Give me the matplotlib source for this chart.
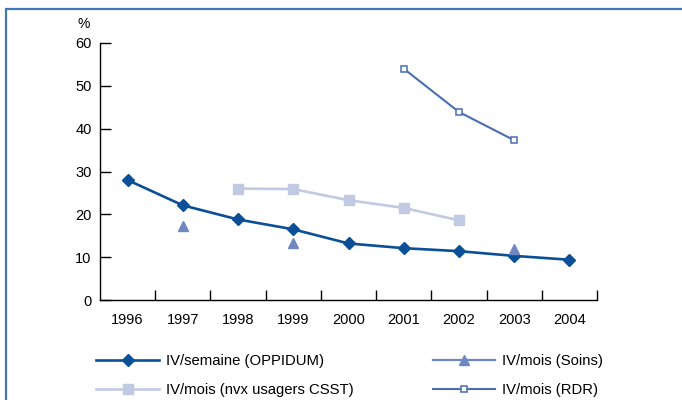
import matplotlib
matplotlib.use('Agg')
import matplotlib.pyplot as plt
from matplotlib.patches import Rectangle
from matplotlib.ticker import FixedLocator

plt.rcParams['font.family'] = ['Liberation Sans', 'DejaVu Sans']

years = ['1996', '1997', '1998', '1999', '2000', '2001', '2002', '2003', '2004']

# IV/semaine (OPPIDUM), all years
oppidum = [28, 22.1, 18.8, 16.5, 13.2, 12.1, 11.4, 10.3, 9.4]
# IV/mois (Soins), points only
soins_years = ['1997', '1999', '2003']
soins = [17.3, 13.3, 11.9]
# IV/mois (nvx usagers CSST)
csst_years = ['1998', '1999', '2000', '2001', '2002']
csst = [26.0, 25.9, 23.3, 21.5, 18.6]
# IV/mois (RDR)
rdr_years = ['2001', '2002', '2003']
rdr = [54.0, 43.9, 37.3]

yticks = [0, 10, 20, 30, 40, 50, 60]


def pos(labels):
    return [years.index(y) for y in labels]


def main():
    fig = plt.figure(figsize=(6.82, 4.0), dpi=100)
    ax = fig.add_axes([100 / 682, 1 - 300 / 400, 497 / 682, 257 / 400])

    # outer frame (left and top edges visible)
    fig.add_artist(Rectangle((6 / 682, -0.2), 1.2, 1.2 - 9 / 400,
                             transform=fig.transFigure, fill=False,
                             edgecolor='#3f78b4', linewidth=1.6))

    x = list(range(len(years)))
    h1, = ax.plot(x, oppidum, color='#0b4f96', lw=1.9, marker='D', ms=6.5,
                  label='IV/semaine (OPPIDUM)')
    h2, = ax.plot(pos(soins_years), soins, color='#6f88c2', lw=1.6, marker='^',
                  ms=7.5, linestyle='none', label='IV/mois (Soins)')
    h3, = ax.plot(pos(csst_years), csst, color='#c2c9e2', lw=1.9, marker='s',
                  ms=6.5, label='IV/mois (nvx usagers CSST)')
    h4, = ax.plot(pos(rdr_years), rdr, color='#4a6eb2', lw=1.5, marker='s',
                  ms=5, mfc='white', mew=1.1, label='IV/mois (RDR)')

    ax.set_xlim(-0.5, len(years) - 0.5)
    ax.set_ylim(0, 60)
    ax.set_yticks(yticks)
    ax.set_xticks(x)
    ax.set_xticklabels(years)
    ax.xaxis.set_minor_locator(FixedLocator([i + 0.5 for i in range(len(years))]))
    ax.tick_params(axis='x', which='major', length=0, pad=9, labelsize=10.5)
    ax.tick_params(axis='x', which='minor', direction='in', length=7, width=1)
    ax.tick_params(axis='y', direction='in', length=8, width=1, pad=6, labelsize=10.5)
    for s in ['top', 'right']:
        ax.spines[s].set_visible(False)
    for s in ['left', 'bottom']:
        ax.spines[s].set_linewidth(1.0)

    fig.text(84 / 682, 1 - 24 / 400, '%', fontsize=10, ha='center', va='center')

    # soins legend entry shows a line with the marker
    h2_leg = plt.Line2D([], [], color='#6f88c2', lw=1.6, marker='^', ms=7.5)
    fig.legend([h1, h3, h2_leg, h4],
               ['IV/semaine (OPPIDUM)', 'IV/mois (nvx usagers CSST)',
                'IV/mois (Soins)', 'IV/mois (RDR)'],
               ncol=2, loc='upper left', bbox_to_anchor=(83 / 682, 1 - 341 / 400),
               frameon=False, fontsize=10.7, numpoints=1, handlelength=4.2,
               handletextpad=0.5, columnspacing=5.3, labelspacing=1.0)

    fig.savefig('out.png', dpi=100)


if __name__ == "__main__":
    main()
